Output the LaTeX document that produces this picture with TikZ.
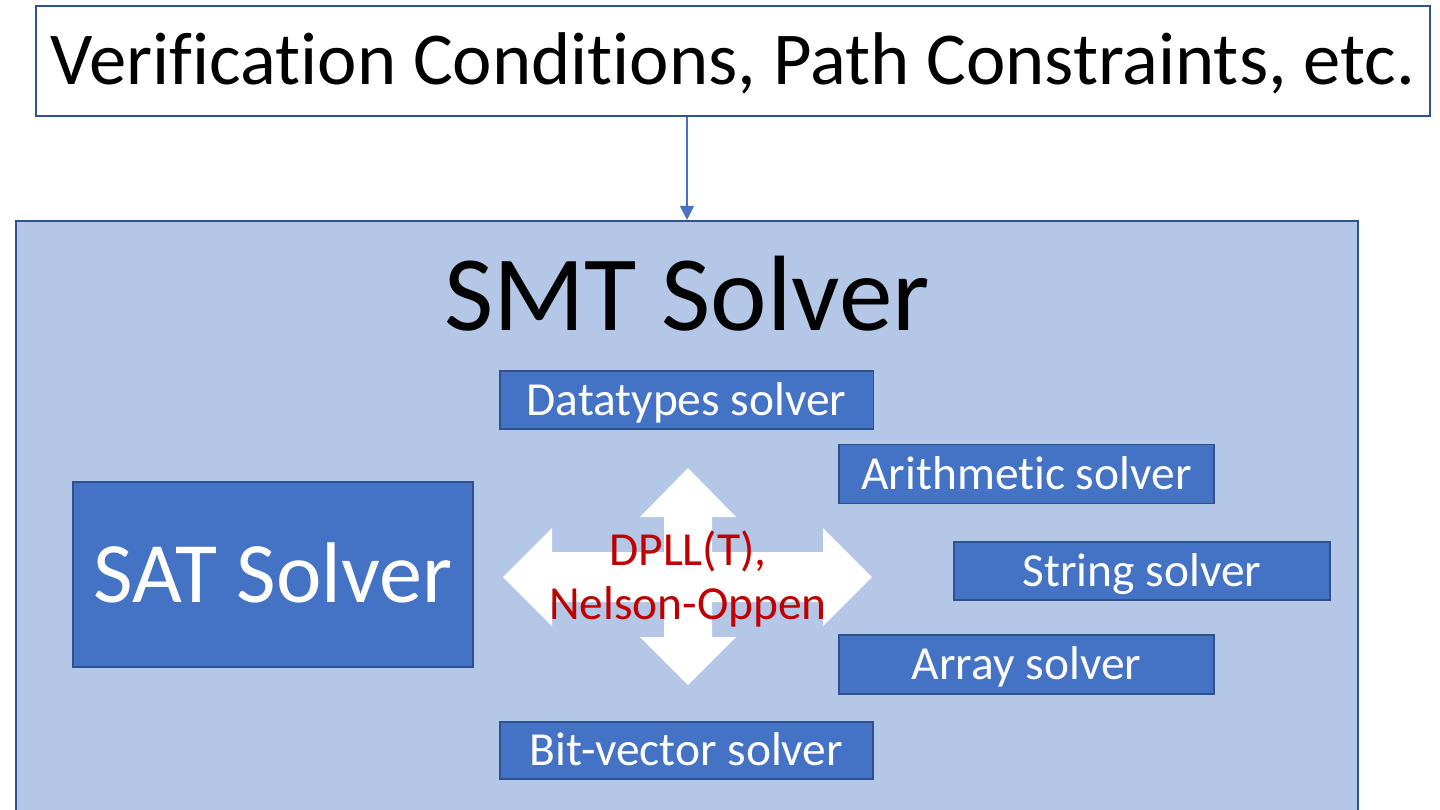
\documentclass[tikz,border=0pt]{standalone}
\usepackage{fontspec}
\setmainfont{Carlito}[Ligatures=NoCommon]
\usetikzlibrary{arrows.meta}
\definecolor{boxblue}{HTML}{4472C4}
\definecolor{edgeblue}{HTML}{2F528F}
\definecolor{paleblue}{HTML}{B4C7E7}
\definecolor{darkred}{HTML}{C00000}
\tikzset{
  solver/.style={draw=edgeblue, line width=1.1pt, fill=boxblue, text=white,
    font=\fontsize{27}{32}\selectfont, text height=21.6pt, text depth=4.3pt,
    minimum width=7.48cm, minimum height=1.16cm, inner sep=0pt},
}

\begin{document}
\begin{tikzpicture}[x=0.02cm, y=-0.02cm]
    \useasboundingbox (0,0) rectangle (1440,809);
    \node[draw=edgeblue, line width=0.8pt, fill=white, minimum width=27.88cm, minimum height=2.2cm, inner sep=0pt,
      text height=34pt, text depth=6.8pt, font=\fontsize{42.5}{50}\selectfont] at(733,61)(vc){Verification Conditions, Path Constraints, etc.};
    \node[draw=edgeblue, line width=1.3pt, fill=paleblue, minimum width=26.84cm, minimum height=12.18cm] at(687,525.5)(smt){};
    \draw[-{Triangle[width=8pt,length=8pt]}, boxblue, line width=0.7pt] (smt.north |- vc.south) -- (smt.north);
    \node[anchor=base, font=\fontsize{61}{68}\selectfont] at(687,330)(title){SMT Solver};
    % 
    \node[solver, minimum width=8cm, minimum height=3.7cm, text height=39.2pt, text depth=7.8pt,
      font=\fontsize{49}{56}\selectfont] at(273,574.5)(sat){SAT Solver};
    % 
    \node[solver] at(686.5,400)(dt){Datatypes solver};
    \node[solver, minimum width=7.5cm, minimum height=1.18cm] at(1026.5,474)(arith){Arithmetic solver};
    \node[solver, minimum width=7.52cm] at(1142,571)(str){String solver};
    \node[solver, minimum width=7.5cm, minimum height=1.18cm] at(1026.5,664.5)(arr){Array solver};
    \node[solver, minimum width=7.46cm, minimum height=1.14cm] at(686.5,750.5)(bv){Bit-vector solver};
    %
    \coordinate (hub) at(688,577);
    \fill[white, shift={(hub)}] (184,0) -- (135,-49) -- (135,-25) -- (24,-25) -- (24,-60) -- (48,-60) -- (0,-109)
      -- (-48,-60) -- (-24,-60) -- (-24,-25) -- (-136,-25) -- (-136,-49) -- (-185,0) -- (-136,49) -- (-136,25)
      -- (-24,25) -- (-24,60) -- (-48,60) -- (0,108) -- (48,60) -- (24,60) -- (24,25) -- (135,25) -- (135,49) -- cycle;
    \node[text=darkred, align=center, inner sep=0pt, font=\fontsize{27}{31}\selectfont] at(688,579)(dpll){DPLL(T),\\Nelson-Oppen};
\end{tikzpicture}
\end{document}
